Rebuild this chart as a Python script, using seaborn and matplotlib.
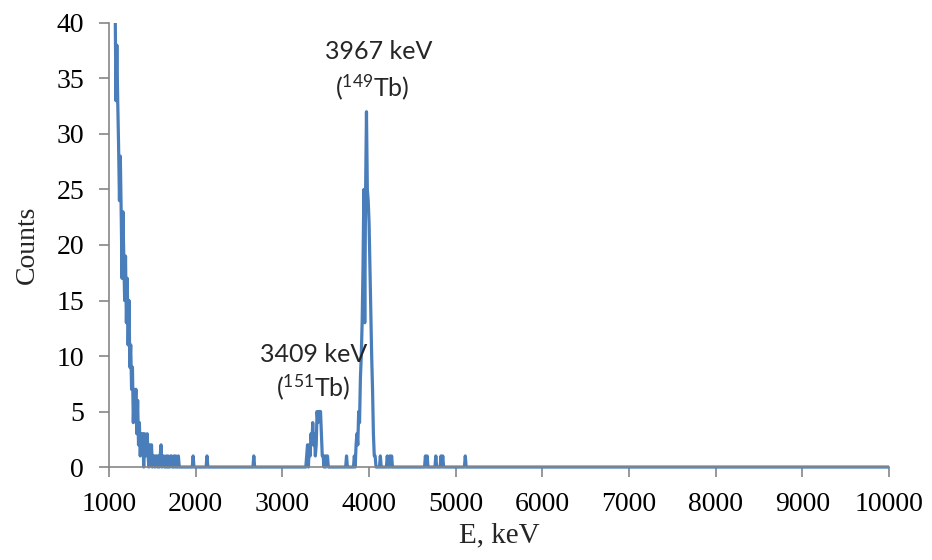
import numpy as np
import pandas as pd
import seaborn as sns
import matplotlib.pyplot as plt
from matplotlib.patches import Rectangle

# spectrum data, 10 keV channels
channel_width = 10
grid_start, grid_end = 1060, 10000

# low-energy tail, consecutive channels from 1060 keV
low_start = 1060
low_counts = [48, 42, 33, 38, 33, 29, 24, 28, 23, 17,
              23, 19, 15, 19, 13, 17, 11, 15, 9, 11,
              7, 9, 4, 7, 5, 7, 3, 6, 2, 4,
              1, 3, 2, 3, 0, 3, 1, 2, 3, 1,
              0, 2, 1, 2, 0, 1, 1, 0, 1, 1,
              0, 1, 0, 1, 2, 0, 1, 1, 0, 0,
              1, 0, 1, 0, 0, 1, 1, 0, 0, 1,
              0, 1, 0, 0, 1]

# 3409 keV peak (151Tb)
tb151_start = 3280
tb151_counts = [1, 2, 0, 2, 1, 3, 2, 4, 2, 3,
                1, 2, 5, 4, 5, 5, 5, 3, 1, 1,
                0, 1, 0, 1, 1]

# 3967 keV peak (149Tb)
tb149_start = 3830
tb149_counts = [1, 0, 2, 3, 2, 5, 4, 8, 10, 13,
                18, 25, 13, 25, 32, 25, 24, 22, 18, 14,
                10, 7, 3]

# isolated single counts
spike_energy = [1970, 2130, 2670, 3740, 4060, 4070, 4130, 4210, 4240, 4260,
                4650, 4670, 4770, 4830, 4850, 5110]
spike_counts = [1, 1, 1, 1, 1, 1, 1, 1, 1, 1,
                1, 1, 1, 1, 1, 1]

energy = np.arange(grid_start, grid_end + channel_width, channel_width)
counts = np.zeros(len(energy))


def put(start, values):
    i0 = (start - grid_start) // channel_width
    counts[i0:i0 + len(values)] = values


put(low_start, low_counts)
put(tb151_start, tb151_counts)
put(tb149_start, tb149_counts)
for e, c in zip(spike_energy, spike_counts):
    counts[(e - grid_start) // channel_width] = c

df = pd.DataFrame({'E': energy, 'Counts': counts})

sns.set_style('ticks')
plt.rcParams['font.family'] = ['Liberation Serif', 'DejaVu Serif']
plt.rcParams['mathtext.fontset'] = 'custom'
plt.rcParams['mathtext.rm'] = 'Lato'
plt.rcParams['mathtext.default'] = 'regular'

fig = plt.figure(figsize=(9.32, 5.6), dpi=100)
ax = fig.add_axes([0.117, 0.166, 0.837, 0.793])

sns.lineplot(data=df, x='E', y='Counts', ax=ax, color='#4a7ebb',
             linewidth=2.3, estimator=None, sort=True)
line = ax.get_lines()[0]
line.set_clip_path(Rectangle((1000, -1), 9000, 41, transform=ax.transData))

ax.set_xlim(1000, 10000)
ax.set_ylim(0, 40)
ax.set_xticks(np.arange(1000, 10001, 1000))
ax.set_yticks(np.arange(0, 41, 5))

grey = '#868686'
sns.despine(ax=ax)
for s in ['left', 'bottom']:
    ax.spines[s].set_color(grey)
    ax.spines[s].set_linewidth(1.2)
ax.tick_params(axis='both', direction='out', length=7, width=1.2,
               color=grey, labelsize=20, labelcolor='black')
ax.tick_params(axis='y', pad=11)
ax.tick_params(axis='x', pad=11)

ax.set_xlabel('E, keV', fontsize=21, labelpad=4)
ax.set_ylabel('Counts', fontsize=20, labelpad=12)

lab = dict(fontsize=18, family=['Lato', 'DejaVu Sans'], ha='center', va='center')
ax.text(3366, 10.1, '3409 keV', **lab)
ax.text(3360, 7.2, r'($^{151}$Tb)', **lab)
ax.text(4115, 37.4, '3967 keV', **lab)
ax.text(4035, 34.2, r'($^{149}$Tb)', **lab)

fig.savefig('out.png', dpi=100)
